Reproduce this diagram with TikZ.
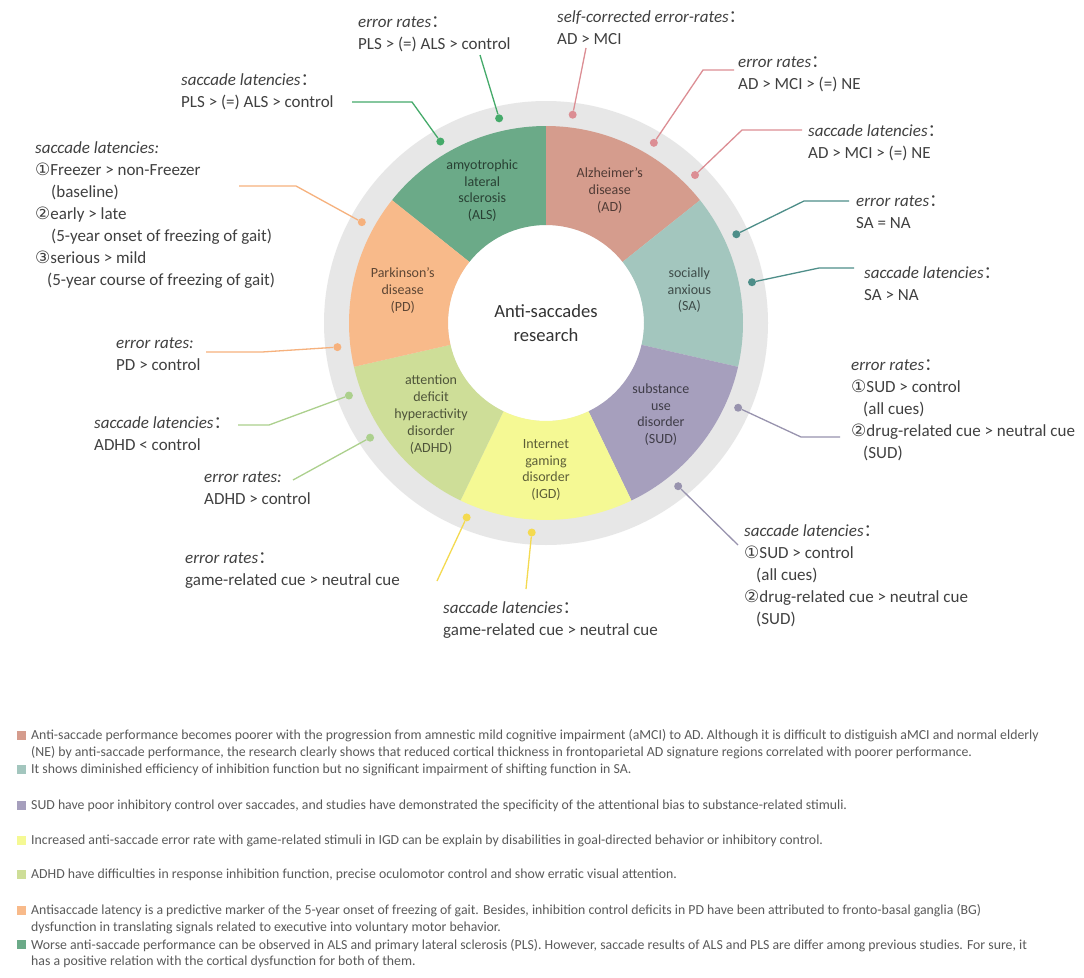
\documentclass[tikz,border=0pt]{standalone}
\usepackage{fontspec}
\setmainfont{Carlito}
\newfontfamily\circfont{DejaVu Sans}
\newfontfamily\cjk{Noto Sans CJK SC}
\usepackage{tikz}
\usetikzlibrary{positioning}
\definecolor{als}{HTML}{6BAA88}
\definecolor{ad}{HTML}{D59C8D}
\definecolor{sa}{HTML}{A3C6BE}
\definecolor{sud}{HTML}{A69FBD}
\definecolor{igd}{HTML}{F5F994}
\definecolor{adhd}{HTML}{CEDE98}
\definecolor{pd}{HTML}{F8BA8A}
\definecolor{alsline}{HTML}{45AA6A}
\definecolor{adline}{HTML}{DC8E94}
\definecolor{saline}{HTML}{4E8E89}
\definecolor{sudline}{HTML}{9893AE}
\definecolor{igdline}{HTML}{F4DA50}
\definecolor{adhdline}{HTML}{ACD08D}
\definecolor{pdline}{HTML}{F6B17D}
\definecolor{ringgray}{HTML}{E7E7E7}
\definecolor{notegray}{HTML}{404040}
\definecolor{leggray}{HTML}{5A5A5A}
\tikzstyle{seglabel} = [align=center, inner sep=0pt, text=black, text opacity=0.62, font=\fontsize{14}{16.8}\selectfont]
\tikzstyle{hubtext} = [align=center, inner sep=0pt, text=black!80, font=\fontsize{18.6}{23.3}\selectfont]
\tikzstyle{annot} = [anchor=north west, align=left, inner sep=0pt, text=notegray, font=\fontsize{17}{22}\selectfont]
\tikzstyle{lead} = [line width=1.3pt]
\tikzstyle{ringdot} = [circle, inner sep=0pt, minimum size=8pt]
\tikzstyle{legnote} = [anchor=north west, align=left, inner sep=0pt, text=leggray, font=\fontsize{13.8}{16.7}\selectfont]
\tikzstyle{legkey} = [inner sep=0pt, minimum size=9pt]
\newcommand{\fwc}{{\cjk ：}}
\newcommand{\cn}[1]{{\circfont #1}}

\begin{document}
\begin{tikzpicture}[x=1pt,y=-1pt]
                    \useasboundingbox[fill=white] (0,0) rectangle (1084,977);
                    \coordinate (c) at (546,323);
                    \fill[ringgray] (c) circle[radius=222];
                    \fill[white] (c) circle[radius=98];
                    \foreach \col/\txt [count=\i from 0] in {als/{amyotrophic\\lateral\\sclerosis\\(ALS)}, ad/{Alzheimer's\\disease\\(AD)}, sa/{socially\\anxious\\(SA)}, sud/{substance\\use\\disorder\\(SUD)}, igd/{Internet\\gaming\\disorder\\(IGD)}, adhd/{attention\\deficit\\hyperactivity\\disorder\\(ADHD)}, pd/{Parkinson's\\disease\\(PD)}}{
                        \pgfmathsetmacro\a{-141.43+51.43*\i}
                        \pgfmathsetmacro\b{\a+51.43}
                        \pgfmathsetmacro\m{\a+25.715}
                        \fill[\col] ([shift={(\a:98)}]c) -- ([shift={(\a:197)}]c) arc[start angle=\a, end angle=\b, radius=197] -- ([shift={(\b:98)}]c) arc[start angle=\b, end angle=\a, radius=98] -- cycle;
                        \node[seglabel] (seg\i) at ([shift={(\m:147)}]c) {\txt};
                    }
                    \node[hubtext] (hub) at (c) {Anti-saccades\\research};

                    \foreach \n/\ang/\col in {alsErr/-102.9/alsline, alsSac/-120.2/alsline, adSelf/-82.7/adline, adErr/-59.1/adline, adSac/-44.8/adline, saErr/-25.0/saline, saSac/-11.2/saline, sudErr/23.8/sudline, sudSac/51.0/sudline, igdSac/93.9/igdline, igdErr/112.2/igdline, adhdErr/146.9/adhdline, adhdSac/159.8/adhdline, pdErr/173.4/pdline, pdSac/-151.3/pdline}{
                        \node[ringdot, fill=\col] (\n Dot) at ([shift={(\ang:210)}]c) {};
                    }

                    \node[annot] (alsErr) at (358,12) {\strut\textit{error rates}\fwc\\PLS > (=) ALS > control};
                    \node[annot] (alsSac) at (181,70) {\strut\textit{saccade latencies}\fwc\\PLS > (=) ALS > control};
                    \node[annot] (adSelf) at (557,7) {\strut\textit{self-corrected error-rates}\fwc\\AD > MCI};
                    \node[annot] (adErr) at (738,52) {\strut\textit{error rates}\fwc\\AD > MCI > (=) NE};
                    \node[annot] (adSac) at (808,121) {\strut\textit{saccade latencies}\fwc\\AD > MCI > (=) NE};
                    \node[annot] (saErr) at (856,191) {\strut\textit{error rates}\fwc\\SA = NA};
                    \node[annot] (saSac) at (864,263) {\strut\textit{saccade latencies}\fwc\\SA > NA};
                    \node[annot] (sudErr) at (851,355) {\strut\textit{error rates}\fwc\\\cn{①}SUD > control\\\hspace*{12pt}(all cues)\\\cn{②}drug-related cue > neutral cue\\\hspace*{12pt}(SUD)};
                    \node[annot] (sudSac) at (744,521) {\strut\textit{saccade latencies}\fwc\\\cn{①}SUD > control\\\hspace*{12pt}(all cues)\\\cn{②}drug-related cue > neutral cue\\\hspace*{12pt}(SUD)};
                    \node[annot] (igdSac) at (443,598) {\strut\textit{saccade latencies}\fwc\\game-related cue > neutral cue};
                    \node[annot] (igdErr) at (185,548) {\strut\textit{error rates}\fwc\\game-related cue > neutral cue};
                    \node[annot] (adhdErr) at (204,467) {\strut\textit{error rates:}\\ADHD > control};
                    \node[annot] (adhdSac) at (94,413) {\strut\textit{saccade latencies}\fwc\\ADHD < control};
                    \node[annot] (pdErr) at (116,333) {\strut\textit{error rates:}\\PD > control};
                    \node[annot] (pdSac) at (35,138) {\strut\textit{saccade latencies:}\\\cn{①}Freezer > non-Freezer\\\hspace*{16pt}(baseline)\\\cn{②}early > late\\\hspace*{16pt}(5-year onset of freezing of gait)\\\cn{③}serious > mild\\\hspace*{12pt}(5-year course of freezing of gait)};

                    \coordinate (alsErrEnd) at (480,55);
                    \coordinate (alsSacEnd) at (352,102);
                    \coordinate (alsSacBend) at (412,102);
                    \coordinate (adSelfEnd) at (586,48);
                    \coordinate (adErrEnd) at (734,70);
                    \coordinate (adErrBend) at (703,70);
                    \coordinate (adSacEnd) at (802,130);
                    \coordinate (adSacBend) at (742,130);
                    \coordinate (saErrEnd) at (849,201);
                    \coordinate (saErrBend) at (804,201);
                    \coordinate (saSacEnd) at (854,268);
                    \coordinate (saSacBend) at (819,268);
                    \coordinate (sudErrEnd) at (840,437);
                    \coordinate (sudErrBend) at (801,437);
                    \coordinate (sudSacEnd) at (738,545);
                    \coordinate (igdSacEnd) at (526,589);
                    \coordinate (igdErrEnd) at (437,581);
                    \coordinate (adhdErrEnd) at (293,480);
                    \coordinate (adhdSacEnd) at (238,425);
                    \coordinate (adhdSacBend) at (269,425);
                    \coordinate (pdErrEnd) at (206,352);
                    \coordinate (pdErrBend) at (262,352);
                    \coordinate (pdSacEnd) at (239,186);
                    \coordinate (pdSacBend) at (296,186);

                    \draw[lead, alsline] (alsErrEnd) -- (alsErrDot);
                    \draw[lead, alsline] (alsSacEnd) -- (alsSacBend) -- (alsSacDot);
                    \draw[lead, adline] (adSelfEnd) -- (adSelfDot);
                    \draw[lead, adline] (adErrEnd) -- (adErrBend) -- (adErrDot);
                    \draw[lead, adline] (adSacEnd) -- (adSacBend) -- (adSacDot);
                    \draw[lead, saline] (saErrEnd) -- (saErrBend) -- (saErrDot);
                    \draw[lead, saline] (saSacEnd) -- (saSacBend) -- (saSacDot);
                    \draw[lead, sudline] (sudErrEnd) -- (sudErrBend) -- (sudErrDot);
                    \draw[lead, sudline] (sudSacEnd) -- (sudSacDot);
                    \draw[lead, igdline] (igdSacEnd) -- (igdSacDot);
                    \draw[lead, igdline] (igdErrEnd) -- (igdErrDot);
                    \draw[lead, adhdline] (adhdErrEnd) -- (adhdErrDot);
                    \draw[lead, adhdline] (adhdSacEnd) -- (adhdSacBend) -- (adhdSacDot);
                    \draw[lead, pdline] (pdErrEnd) -- (pdErrBend) -- (pdErrDot);
                    \draw[lead, pdline] (pdSacEnd) -- (pdSacBend) -- (pdSacDot);

                    \foreach \col/\y/\txt [count=\k] in {ad/735/{Anti-saccade performance becomes poorer with the progression from amnestic mild cognitive impairment (aMCI) to AD. Although it is difficult to distiguish aMCI and normal elderly\\(NE) by anti-saccade performance, the research clearly shows that reduced cortical thickness in frontoparietal AD signature regions correlated with poorer performance.}, sa/769.3/{It shows diminished efficiency of inhibition function but no significant impairment of shifting function in SA.}, sud/805/{SUD have poor inhibitory control over saccades, and studies have demonstrated the specificity of the attentional bias to substance-related stimuli.}, igd/840/{Increased anti-saccade error rate with game-related stimuli in IGD can be explain by disabilities in goal-directed behavior or inhibitory control.}, adhd/874/{ADHD have difficulties in response inhibition function, precise oculomotor control and show erratic visual attention.}, pd/910/{Antisaccade latency is a predictive marker of the 5-year onset of freezing of gait. Besides, inhibition control deficits in PD have been attributed to fronto-basal ganglia (BG)\\dysfunction in translating signals related to executive into voluntary motor behavior.}, als/944.3/{Worse anti-saccade performance can be observed in ALS and primary lateral sclerosis (PLS). However, saccade results of ALS and PLS are differ among previous studies. For sure, it\\has a positive relation with the cortical dysfunction for both of them.}}{
                        \node[legkey, fill=\col] (key\k) at (21,\y) {};
                        \node[legnote] (legend\k) at (31,\y-7.2) {\strut\txt};
                    }
                \end{tikzpicture}
\end{document}
